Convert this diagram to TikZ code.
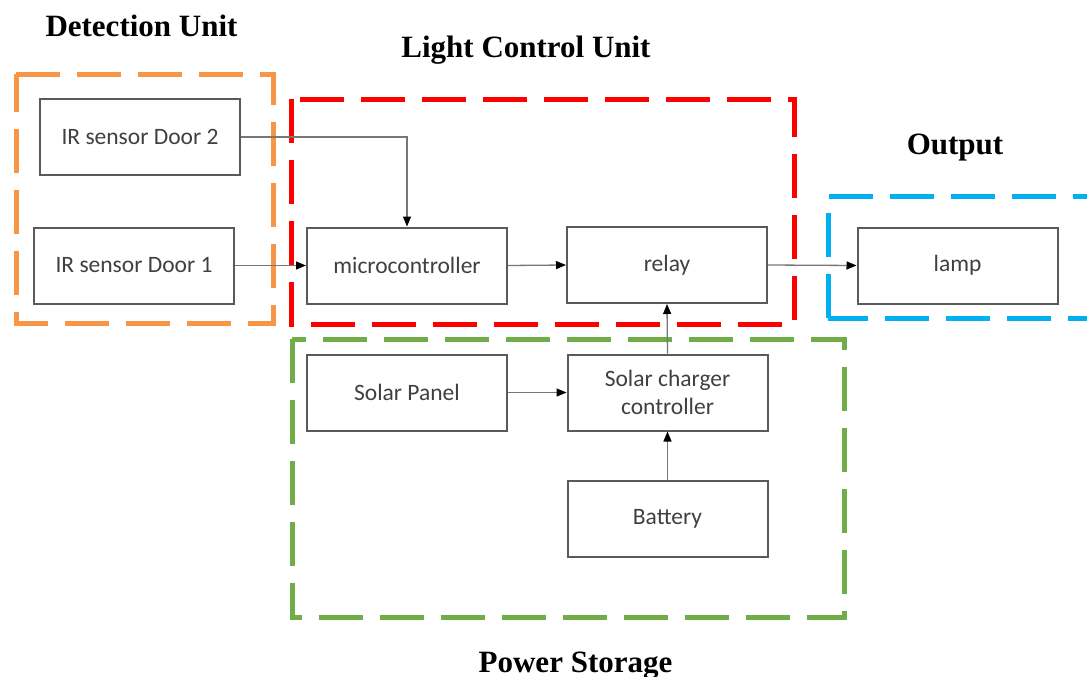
\documentclass[tikz,border=0pt]{standalone}
\usepackage{fontspec}
\setmainfont{Liberation Serif}
\newfontfamily\boxfont{Carlito}
\usetikzlibrary{arrows.meta}
\definecolor{cOrange}{HTML}{F79646}
\definecolor{cRed}{HTML}{FF0000}
\definecolor{cBlue}{HTML}{00B0F0}
\definecolor{cGreen}{HTML}{70AD47}
\definecolor{boxgray}{HTML}{5A5A5A}
\definecolor{txtgray}{HTML}{404040}
\definecolor{arrgray}{HTML}{777777}
\begin{document}
\begin{tikzpicture}[x=1pt,y=-1pt,
  blk/.style={draw=boxgray, line width=2pt, minimum width=200pt, minimum height=76pt,
    inner sep=0pt, font=\boxfont\fontsize{23.5}{28}\selectfont, text=txtgray, align=center},
  arr/.style={draw=arrgray, line width=1.3pt, -{Triangle[length=10pt,width=8pt,color=black]}},
  grp/.style={line width=5pt, dash pattern=on 44pt off 17pt},
  ttl/.style={font=\bfseries\fontsize{31}{37}\selectfont, anchor=base, inner sep=0pt}]
\useasboundingbox (0,0) rectangle (1087,677);
\fill[white] (0,0) rectangle (1087,677);
\begin{scope}
\clip (0,0) rectangle (1087,677);
% group frames
\draw[grp, cOrange] (16,74.5) -- (273.5,74.5) -- (273.5,323.5) -- (16,323.5) -- cycle;
\draw[grp, cRed] (291.5,99) -- (291.5,324) -- (794,324) -- (794,99) -- cycle;
\draw[grp, cBlue] (828,318) -- (828,196.5) -- (1110,196.5);
\draw[grp, cBlue, dash phase=24pt] (848,318) -- (1110,318);
\draw[grp, cBlue] (848,318) -- (828,318);
\draw[grp, cGreen] (292,339) -- (292,617.5) -- (844,617.5) -- (844,339) -- cycle;
\end{scope}
% titles
\node[ttl] (tdet) at (141.5,37) {Detection Unit};
\node[ttl] (tlcu) at (526,58) {Light Control Unit};
\node[ttl] (tout) at (955,154) {Output};
\node[ttl] (tpow) at (575.5,672) {Power Storage};
% blocks
\node[blk] (ir2) at (140,137) {IR sensor Door 2};
\node[blk] (ir1) at (134,265.5) {IR sensor Door 1};
\node[blk] (micro) at (407,265.5) {microcontroller};
\node[blk] (relay) at (667,265) {relay};
\node[blk] (lamp) at (957.5,265.5) {lamp};
\node[blk] (panel) at (407,392.5) {Solar Panel};
\node[blk] (charger) at (667.5,392.5) {Solar charger\\controller};
\node[blk] (battery) at (667.5,519) {Battery};
% connectors
\draw[arr] (ir2.east) -| (micro.north);
\draw[arr] (ir1.east) -- (micro.west);
\draw[arr] (micro.east) -- (relay.west);
\draw[arr] (relay.east) -- (lamp.west);
\draw[arr] (charger.north) -- (relay.south);
\draw[arr] (panel.east) -- (charger.west);
\draw[arr] (battery.north) -- (charger.south);
\end{tikzpicture}
\end{document}
